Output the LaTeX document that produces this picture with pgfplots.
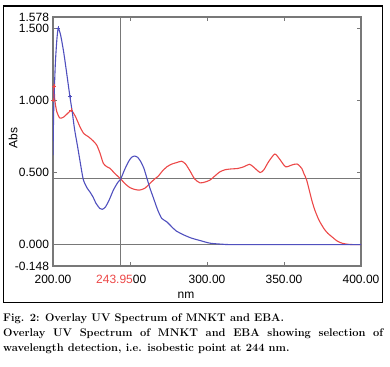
\documentclass[border=0pt]{standalone}
\usepackage{pgfplots}
\pgfplotsset{compat=1.18}
\usepackage{fontspec}
\newfontfamily\arialf{Liberation Sans}
\definecolor{specblue}{RGB}{80,80,190}
\definecolor{specred}{RGB}{236,72,72}
\definecolor{axgray}{RGB}{120,120,120}
\begin{document}
\begin{tikzpicture}[x=1pt,y=1pt]
\path (0,0) rectangle (390,366);
\draw[black, line width=1.2pt] (3.3,63.3) rectangle (382.7,360);
\begin{axis}[
  at={(53pt,100pt)}, anchor=south west,
  scale only axis, width=308pt, height=249pt,
  xmin=200, xmax=400, ymin=-0.148, ymax=1.578,
  axis line style={axgray, line width=1.2pt},
  xtick={200,250,300,350,400},
  xticklabels={200.00,,300.00,350.00,400.00},
  ytick={-0.148,0,0.5,1,1.5,1.578},
  yticklabels={-0.148,0.000,0.500,1.000,1.500,1.578},
  tick align=inside, major tick length=4pt,
  tick style={axgray, line width=0.9pt},
  ticklabel style={font=\arialf\fontsize{12}{14}\selectfont, text=black},
  /pgf/number format/assume math mode=true,
  xticklabel style={anchor=center, yshift=-13pt},
  yticklabel style={xshift=-0.5pt},
  clip=true,
]
\draw[axgray, line width=1.3pt] (axis cs:200,0.46) -- (axis cs:400,0.46);
\draw[axgray, line width=1.3pt] (axis cs:200,0) -- (axis cs:400,0);
\draw[axgray, line width=1.3pt] (axis cs:243.95,-0.148) -- (axis cs:243.95,1.578);
\addplot[specred, line width=1.1pt, smooth, tension=0.4] coordinates {
(200,1.00) (200.6,1.10) (201.2,1.00) (202.5,0.92) (204.5,0.877) (207,0.885)
(210,0.915) (212,0.93) (214.5,0.89) (217.5,0.817) (220,0.77) (223,0.748)
(226,0.72) (228.4,0.69) (230.5,0.635) (232.7,0.563) (235,0.54)
(237,0.529) (240,0.495) (243.95,0.455) (247,0.42) (250,0.395) (253,0.383)
(256,0.378) (259.5,0.39) (263,0.425) (266,0.455) (268.4,0.475) (271,0.51)
(274,0.54) (277,0.558) (280,0.568) (283.5,0.578) (286,0.56) (289,0.51)
(292,0.455) (295.5,0.428) (299,0.435) (302,0.448) (305,0.475) (308.4,0.505)
(312,0.52) (316,0.525) (320,0.528) (324,0.54) (327.5,0.557) (330,0.54)
(334.5,0.50) (337,0.52) (340,0.575) (344,0.628) (347,0.595) (351,0.54)
(355,0.552) (358.5,0.559) (361.5,0.529) (363,0.49) (364.7,0.448) (368,0.31)
(370,0.24) (372.7,0.17) (376,0.11) (378.5,0.078) (381.4,0.052) (384.5,0.025)
(388,0.009) (392,0.002) (396.6,0.0) (400,0.0)
};
\addplot[specblue, line width=1.1pt, smooth, tension=0.4] coordinates {
(200,0.62) (200.5,0.95) (201.5,1.25) (202.5,1.42) (203.4,1.50) (205,1.45)
(207,1.33) (209,1.18) (211,1.025) (212.5,0.92) (214,0.80) (216,0.678)
(218,0.55) (219.7,0.45) (222,0.395) (224,0.365) (226,0.33) (228,0.285)
(230.5,0.25) (232,0.245) (234,0.26) (236.5,0.31) (239.2,0.378) (242,0.43)
(243.95,0.455) (246.5,0.52) (249,0.575) (251,0.605) (253,0.614) (255,0.605)
(257,0.575) (259,0.53) (261,0.46) (263,0.39) (265,0.33) (268,0.24)
(270.6,0.182) (273.8,0.159) (277,0.125) (280,0.095) (285,0.067) (290,0.045)
(296,0.027) (302,0.01) (310,0.003) (320,0.0) (400,0.0)
};
\addplot[only marks, mark=+, mark size=2pt, specred, line width=0.8pt] coordinates {(200.6,1.10) (200.3,1.0) (212,0.93)};
\addplot[only marks, mark=+, mark size=2pt, specblue, line width=0.8pt] coordinates {(203.4,1.50) (211,1.025)};
\end{axis}
\node[anchor=west, inner sep=0pt, font=\arialf\fontsize{12}{14}\selectfont] at (96,87) {\textcolor{specred}{243.95}00};
\node[font=\arialf\fontsize{12}{14}\selectfont] at (186,71) {nm};
\node[rotate=90, font=\arialf\fontsize{12}{14}\selectfont] at (13,228) {Abs};
\node[anchor=base west, inner sep=0, font=\bfseries\fontsize{11.1}{13}\selectfont] at (3,44) {Fig. 2: Overlay UV Spectrum of MNKT and EBA.};
\node[anchor=base west, inner sep=0, font=\bfseries\fontsize{11.1}{13}\selectfont] at (3,29) {\makebox[380pt][s]{Overlay UV Spectrum of MNKT and EBA showing selection of}};
\node[anchor=base west, inner sep=0, font=\bfseries\fontsize{11.1}{13}\selectfont] at (3,14) {wavelength detection, i.e. isobestic point at 244 nm.};
\end{tikzpicture}
\end{document}
